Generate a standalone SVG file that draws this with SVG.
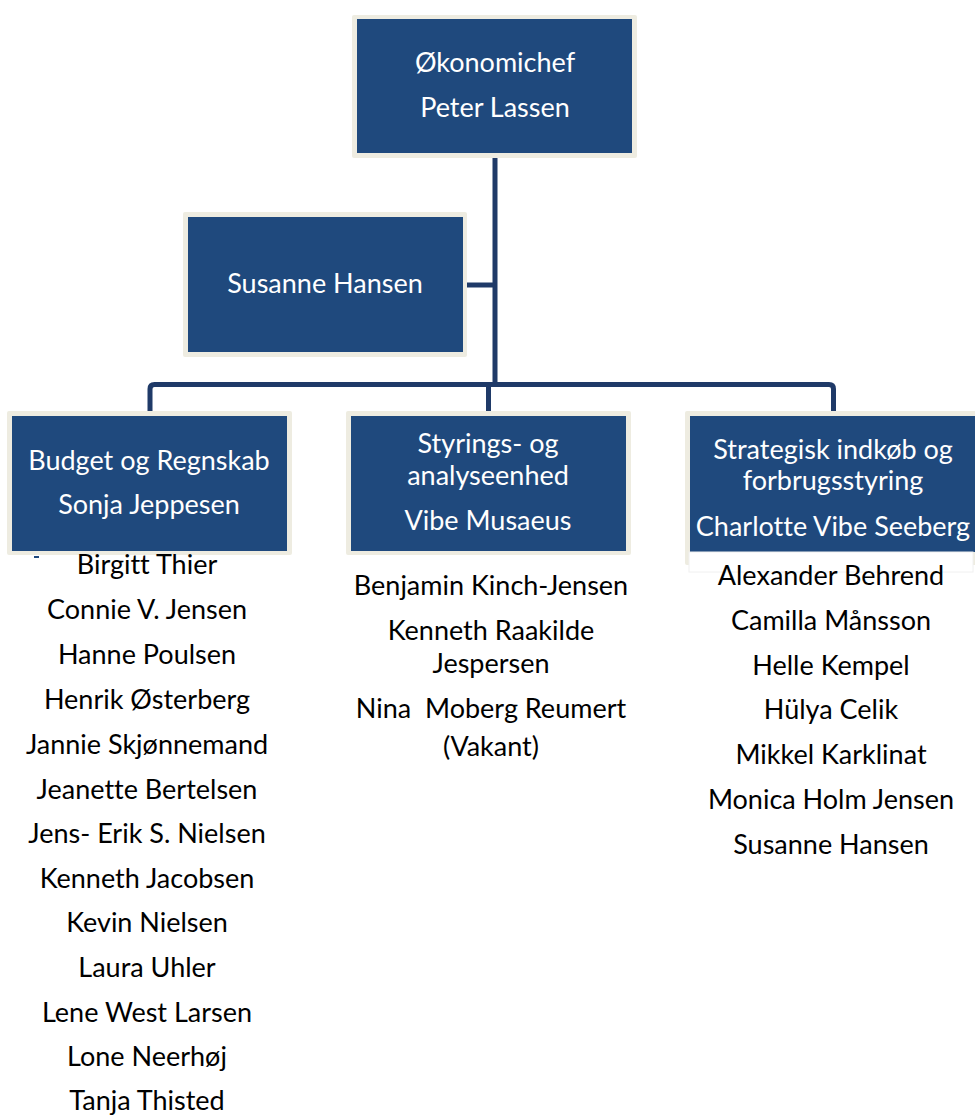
<svg xmlns="http://www.w3.org/2000/svg" width="975" height="1115" viewBox="0 0 975 1115">
<style>
.outer{fill:#EEECE1}
.inner{fill:#1F497D}
.bt{font-family:Lato,"Liberation Sans",sans-serif;font-size:27px;fill:#FFFFFF;text-anchor:middle;font-variant-ligatures:none}
.lt{font-family:Lato,"Liberation Sans",sans-serif;font-size:27px;fill:#000000;text-anchor:middle;font-variant-ligatures:none}
.conn{fill:none;stroke:#1F3A68;stroke-width:5}
</style>
<rect width="975" height="1115" fill="#FFFFFF"/>
<g id="connectors">
<line class="conn" x1="495" y1="158" x2="495" y2="385"/>
<line class="conn" x1="467" y1="285" x2="495" y2="285"/>
<path class="conn" d="M150,411 V389 Q150,384.5 154.5,384.5 H829 Q833.5,384.5 833.5,389 V411"/>
<line class="conn" x1="488.5" y1="384" x2="488.5" y2="411"/>
</g>
<g id="node-okonomichef">
<rect class="outer" x="352" y="15" width="285" height="143" rx="2"/>
<rect class="inner" x="357" y="19" width="275" height="134"/>
<text class="bt" x="495" y="72">Økonomichef</text>
<text class="bt" x="495" y="117">Peter Lassen</text>
</g>
<g id="node-susanne">
<rect class="outer" x="183" y="212" width="284" height="145" rx="2"/>
<rect class="inner" x="188" y="217" width="275" height="135"/>
<text class="bt" x="325" y="293">Susanne Hansen</text>
</g>
<g id="node-budget">
<rect class="outer" x="7" y="411" width="285" height="144" rx="2"/>
<rect class="inner" x="12" y="416" width="275" height="135"/>
<text class="bt" x="149" y="470">Budget og Regnskab</text>
<text class="bt" x="149" y="514">Sonja Jeppesen</text>
<rect x="34" y="556" width="5" height="2" fill="#1F497D"/>
</g>
<g id="node-styrings">
<rect class="outer" x="346" y="411" width="285" height="144" rx="2"/>
<rect class="inner" x="351" y="416" width="275" height="135"/>
<text class="bt" x="488" y="453">Styrings- og</text>
<text class="bt" x="488" y="485">analyseenhed</text>
<text class="bt" x="488" y="530">Vibe Musaeus</text>
</g>
<g id="node-strategisk">
<rect class="outer" x="685" y="411" width="295" height="154" rx="2"/>
<rect class="inner" x="690" y="416" width="290" height="136"/>
<rect x="689" y="552" width="284" height="20" fill="#FFFFFF" stroke="#F0F0F0" stroke-width="1"/>
<text class="bt" x="833" y="459">Strategisk indkøb og</text>
<text class="bt" x="833" y="490">forbrugsstyring</text>
<text class="bt" x="833" y="536">Charlotte Vibe Seeberg</text>
</g>
<g id="list-budget">
<text class="lt" x="147" y="574">Birgitt Thier</text>
<text class="lt" x="147" y="619">Connie V. Jensen</text>
<text class="lt" x="147" y="664">Hanne Poulsen</text>
<text class="lt" x="147" y="709">Henrik Østerberg</text>
<text class="lt" x="147" y="754">Jannie Skjønnemand</text>
<text class="lt" x="147" y="799">Jeanette Bertelsen</text>
<text class="lt" x="147" y="843">Jens- Erik S. Nielsen</text>
<text class="lt" x="147" y="888">Kenneth Jacobsen</text>
<text class="lt" x="147" y="932">Kevin Nielsen</text>
<text class="lt" x="147" y="977">Laura Uhler</text>
<text class="lt" x="147" y="1022">Lene West Larsen</text>
<text class="lt" x="147" y="1066">Lone Neerhøj</text>
<text class="lt" x="147" y="1110">Tanja Thisted</text>
</g>
<g id="list-styrings">
<text class="lt" x="491" y="595">Benjamin Kinch-Jensen</text>
<text class="lt" x="491" y="640">Kenneth Raakilde</text>
<text class="lt" x="491" y="673">Jespersen</text>
<text class="lt" x="491" y="718" xml:space="preserve">Nina  Moberg Reumert</text>
<text class="lt" x="491" y="756">(Vakant)</text>
</g>
<g id="list-strategisk">
<text class="lt" x="831" y="585">Alexander Behrend</text>
<text class="lt" x="831" y="630">Camilla Månsson</text>
<text class="lt" x="831" y="675">Helle Kempel</text>
<text class="lt" x="831" y="719">Hülya Celik</text>
<text class="lt" x="831" y="764">Mikkel Karklinat</text>
<text class="lt" x="831" y="809">Monica Holm Jensen</text>
<text class="lt" x="831" y="854">Susanne Hansen</text>
</g>
</svg>
